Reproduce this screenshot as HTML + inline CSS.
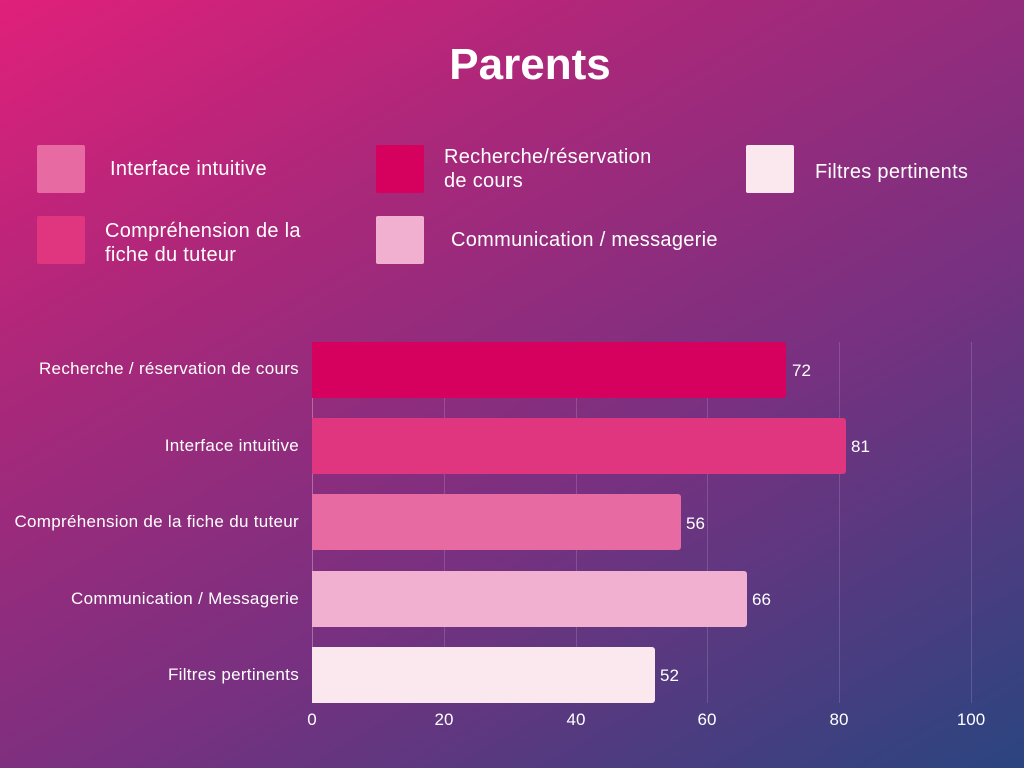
<!DOCTYPE html>
<html><head><meta charset="utf-8"><style>
html,body{margin:0;padding:0}
body{width:1024px;height:768px;position:relative;overflow:hidden;font-family:"Liberation Sans",Roboto,sans-serif;color:#fff;
background:linear-gradient(150deg,#e0207a 0%,#a8287a 30%,#7a3080 60%,#2a4580 100%);}
.t{position:absolute;white-space:nowrap}
.sw{position:absolute;width:48px;height:48px;border-radius:2px}
.lg{position:absolute;font-size:20px;line-height:24px;letter-spacing:0.3px}
.bar{position:absolute;left:312px;height:56px;border-radius:0 3px 3px 0}
.lab{position:absolute;right:725px;font-size:17px;letter-spacing:0.3px;text-align:right;white-space:nowrap}
.val{position:absolute;font-size:17px}
.g{position:absolute;top:342px;height:361px;width:1px;background:rgba(255,255,255,0.15)}
.tk{position:absolute;top:710px;font-size:17px;width:40px;margin-left:-20px;text-align:center}
</style></head><body>
<div class="t" style="left:0;width:1060px;text-align:center;top:40px;font-size:44px;font-weight:bold">Parents</div>

<div class="sw" style="left:37px;top:145px;background:#e86aa2"></div>
<div class="lg" style="left:110px;top:157px">Interface intuitive</div>
<div class="sw" style="left:376px;top:145px;background:#d6005f"></div>
<div class="lg" style="left:444px;top:145px">Recherche/réservation<br>de cours</div>
<div class="sw" style="left:746px;top:145px;background:#fbe8ef"></div>
<div class="lg" style="left:815px;top:160px">Filtres pertinents</div>
<div class="sw" style="left:37px;top:216px;background:#e0357f"></div>
<div class="lg" style="left:105px;top:219px">Compréhension de la<br>fiche du tuteur</div>
<div class="sw" style="left:376px;top:216px;background:#f2b0d0"></div>
<div class="lg" style="left:451px;top:228px">Communication / messagerie</div>

<div class="g" style="left:444px"></div>
<div class="g" style="left:576px"></div>
<div class="g" style="left:707px"></div>
<div class="g" style="left:839px"></div>
<div class="g" style="left:971px"></div>
<div class="g" style="left:312px;background:rgba(255,255,255,0.3)"></div>

<div class="bar" style="top:342px;width:474px;background:#d6005f"></div>
<div class="bar" style="top:418px;width:534px;background:#e0357f"></div>
<div class="bar" style="top:494px;width:369px;background:#e86aa2"></div>
<div class="bar" style="top:571px;width:435px;background:#f2b0d0"></div>
<div class="bar" style="top:647px;width:343px;background:#fbe8ef"></div>

<div class="lab" style="top:359px">Recherche / réservation de cours</div>
<div class="lab" style="top:436px">Interface intuitive</div>
<div class="lab" style="top:512px">Compréhension de la fiche du tuteur</div>
<div class="lab" style="top:589px">Communication / Messagerie</div>
<div class="lab" style="top:665px">Filtres pertinents</div>

<div class="val" style="left:792px;top:361px">72</div>
<div class="val" style="left:851px;top:437px">81</div>
<div class="val" style="left:686px;top:514px">56</div>
<div class="val" style="left:752px;top:590px">66</div>
<div class="val" style="left:660px;top:666px">52</div>

<div class="tk" style="left:312px">0</div>
<div class="tk" style="left:444px">20</div>
<div class="tk" style="left:576px">40</div>
<div class="tk" style="left:707px">60</div>
<div class="tk" style="left:839px">80</div>
<div class="tk" style="left:971px">100</div>
</body></html>
